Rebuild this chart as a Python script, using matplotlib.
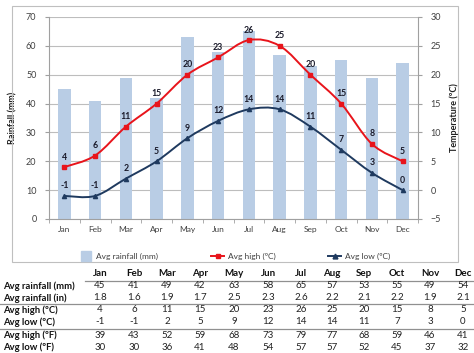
import matplotlib.pyplot as plt
import numpy as np
from matplotlib.lines import Line2D
from matplotlib.patches import Rectangle, PathPatch
from matplotlib.path import Path

plt.rcParams['font.family'] = ['Lato', 'DejaVu Sans']

months = ['Jan', 'Feb', 'Mar', 'Apr', 'May', 'Jun',
          'Jul', 'Aug', 'Sep', 'Oct', 'Nov', 'Dec']
rain_mm = [45, 41, 49, 42, 63, 58, 65, 57, 53, 55, 49, 54]
rain_in = ['1.8', '1.6', '1.9', '1.7', '2.5', '2.3', '2.6', '2.2', '2.1', '2.2', '1.9', '2.1']
high_c = [4, 6, 11, 15, 20, 23, 26, 25, 20, 15, 8, 5]
low_c = [-1, -1, 2, 5, 9, 12, 14, 14, 11, 7, 3, 0]
high_f = [39, 43, 52, 59, 68, 73, 79, 77, 68, 59, 46, 41]
low_f = [30, 30, 36, 41, 48, 54, 57, 57, 52, 45, 37, 32]

row_names = ['Avg rainfall (mm)', 'Avg rainfall (in)', 'Avg high (ºC)',
             'Avg low (ºC)', 'Avg high (ºF)', 'Avg low (ºF)']

W, H = 474, 353
BAR = '#b9cde5'
RED = '#e8141b'
NAVY = '#1f3a5f'
GRID = '#bdbdbd'
TXT = '#404040'


def smooth_path(xs, ys):
    # Excel-style smoothing: cubic bezier through every point
    pts = np.column_stack([xs, ys]).astype(float)
    verts = [pts[0]]
    codes = [Path.MOVETO]
    n = len(pts)
    for i in range(n - 1):
        p0 = pts[max(i - 1, 0)]
        p1 = pts[i]
        p2 = pts[i + 1]
        p3 = pts[min(i + 2, n - 1)]
        c1 = p1 + (p2 - p0) / 6.0
        c2 = p2 - (p3 - p1) / 6.0
        verts += [c1, c2, p2]
        codes += [Path.CURVE4] * 3
    return Path(verts, codes)


fig = plt.figure(figsize=(W / 100, H / 100), dpi=100)

# chart frame
fig.add_artist(Rectangle((12 / W, 1 - 262 / H), 446 / W, 256 / H,
                         transform=fig.transFigure, fill=False,
                         edgecolor='#bfbfbf', linewidth=0.8))

left, right, top, bottom = 49, 418, 17, 219
ax = fig.add_axes([left / W, 1 - bottom / H, (right - left) / W, (bottom - top) / H])
x = np.arange(len(months))

ax.bar(x, rain_mm, width=0.4, color=BAR, zorder=2, label='Avg rainfall (mm)')
ax.set_xlim(-0.5, 11.5)
ax.set_ylim(0, 70)
ax.set_yticks(range(0, 71, 10))
ax.yaxis.grid(True, color=GRID, linewidth=0.8, zorder=0)
ax.set_axisbelow(True)
ax.set_xticks(x)
ax.set_xticklabels(months)
ax.set_xticks(np.arange(-0.5, 12, 1), minor=True)
ax.tick_params(axis='x', which='major', length=0, labelsize=6, colors=TXT, pad=5)
ax.tick_params(axis='x', which='minor', length=3, color='#a0a0a0', direction='out')
ax.tick_params(axis='y', length=3, color='#a0a0a0', labelsize=6.5, colors=TXT, pad=6)
for s in ['top', 'right']:
    ax.spines[s].set_visible(False)
for s in ['left', 'bottom']:
    ax.spines[s].set_color('#a0a0a0')
    ax.spines[s].set_linewidth(0.8)
ax.set_ylabel('Rainfall (mm)', fontsize=6.5, fontweight='bold', color='#202020', labelpad=6)

ax2 = ax.twinx()
ax2.set_ylim(-5, 30)
ax2.set_yticks(range(-5, 31, 5))
ax2.tick_params(axis='y', length=3, color='#a0a0a0', labelsize=6.5, colors=TXT, pad=6)
for s in ['top', 'left', 'bottom']:
    ax2.spines[s].set_visible(False)
ax2.spines['right'].set_color('#a0a0a0')
ax2.spines['right'].set_linewidth(0.8)
ax2.set_ylabel('Temperature (ºC)', fontsize=6.5, fontweight='bold', color='#202020', labelpad=6)

for vals, col, mk, ms in [(high_c, RED, 's', 3.2), (low_c, NAVY, '^', 3)]:
    ax2.add_patch(PathPatch(smooth_path(x, vals), fill=False, edgecolor=col,
                            linewidth=1.4, zorder=3))
    ax2.plot(x, vals, linestyle='none', marker=mk, color=col, markersize=ms, zorder=4)
    for xi, v in zip(x, vals):
        ax2.annotate(str(v), (xi, v), xytext=(0, 4), textcoords='offset points',
                     ha='center', va='bottom', fontsize=6.3, fontweight='bold',
                     color='#1a1a2a', zorder=5)

# legend
ly = 1 - 256 / H
handles = [
    (Line2D([], [], linestyle='none', marker='s', markersize=7, color=BAR), 'Avg rainfall (mm)', 88),
    (Line2D([], [], color=RED, linewidth=1.4, marker='s', markersize=3.5), 'Avg high (ºC)', 220),
    (Line2D([], [], color=NAVY, linewidth=1.4, marker='^', markersize=3.5), 'Avg low (ºC)', 337),
]
for h, lab, px in handles:
    fig.legend([h], [lab], loc='center left', bbox_to_anchor=(px / W - 0.035, ly),
               frameon=False, fontsize=6, handlelength=1.6, handletextpad=0.5,
               labelcolor=TXT)

# table
col_x = [100, 134, 167, 200, 234, 268, 301, 332, 364, 397, 430, 463]
for cx, m in zip(col_x, months):
    fig.text(cx / W, 1 - 274 / H, m, ha='center', va='center', fontsize=7,
             fontweight='bold', color='#111111')
rows = [rain_mm, rain_in, high_c, low_c, high_f, low_f]
row_y = [286, 298, 310, 322, 335, 347]
for name, vals, ry in zip(row_names, rows, row_y):
    fig.text(3 / W, 1 - ry / H, name, ha='left', va='center', fontsize=6.8,
             fontweight='bold', color='#111111')
    for cx, v in zip(col_x, vals):
        fig.text(cx / W, 1 - ry / H, str(v), ha='center', va='center', fontsize=7,
                 color='#222222')

for y0, x0 in [(280.5, 85), (304, 0), (328.5, 0)]:
    fig.add_artist(Line2D([x0 / W, 1], [1 - y0 / H] * 2, transform=fig.transFigure,
                          color='#909090', linewidth=0.9))

fig.savefig('out.png', dpi=100)
